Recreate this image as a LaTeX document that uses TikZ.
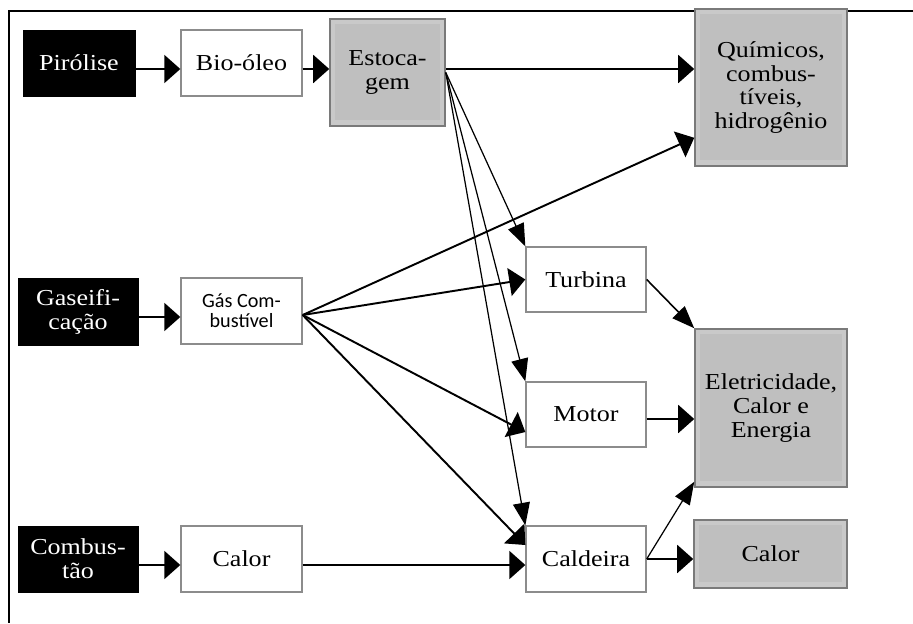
\documentclass[tikz,border=0pt]{standalone}
\usepackage{fontspec}
\setmainfont{Liberation Serif}[FakeStretch=1.14]
\newfontfamily\calib{Carlito}
\usepackage{tikz}
\usetikzlibrary{arrows.meta}

\definecolor{grayout}{HTML}{C9C9C9}
\definecolor{grayin}{HTML}{BFBFBF}
\definecolor{edgegray}{HTML}{7A7A7A}
\definecolor{boxgray}{HTML}{8C8C8C}

\begin{document}
\begin{tikzpicture}[x=0.02cm, y=-0.02cm,
  every node/.style={inner sep=0pt, align=center, font=\fontsize{13}{13.6}\selectfont},
  blk/.style={draw=black, fill=black, text=white},
  wht/.style={draw=boxgray, fill=white, line width=0.8pt},
  gry/.style={draw=edgegray, fill=grayout, line width=0.9pt,
    path picture={\fill[grayin] ([xshift=0.1cm,yshift=-0.1cm]path picture bounding box.north west)
      rectangle ([xshift=-0.1cm,yshift=0.12cm]path picture bounding box.south east);}},
  arr/.style={-{Triangle[length=0.32cm,width=0.56cm]}, line width=1.1pt},
  thin/.style={-{Triangle[length=0.45cm,width=0.34cm]}, line width=0.7pt}]
  \useasboundingbox (0,0) rectangle (913,623);
  % frame
  \draw[line width=1pt] (913,11) -- (9,11) -- (9,623);
  % sources
  \node[blk, minimum width=2.24cm, minimum height=1.32cm] (pir) at (79,63) {Pirólise};
  \node[blk, minimum width=2.4cm, minimum height=1.34cm] (gasf) at (78,311.5) {Gaseifi-\\cação};
  \node[blk, minimum width=2.4cm, minimum height=1.32cm] (comb) at (78,559) {Combus-\\tão};
  % products
  \node[wht, minimum width=2.42cm, minimum height=1.32cm] (bio) at (241.5,63) {Bio-óleo};
  \node[wht, minimum width=2.42cm, minimum height=1.32cm, font=\calib\fontsize{11.5}{11.4}\selectfont] (gas) at (241.5,311) {Gás Com-\\bustível};
  \node[wht, minimum width=2.42cm, minimum height=1.32cm] (calor) at (241.5,559) {Calor};
  \node[gry, minimum width=2.3cm, minimum height=2.14cm] (esto) at (387.5,72.5) {Estoca-\\gem};
  % conversion
  \node[wht, minimum width=2.4cm, minimum height=1.3cm] (turb) at (586,279.5) {Turbina};
  \node[wht, minimum width=2.4cm, minimum height=1.3cm] (motor) at (586,414.5) {Motor};
  \node[wht, minimum width=2.4cm, minimum height=1.32cm] (cald) at (586,559) {Caldeira};
  % end uses
  \node[gry, minimum width=3.04cm, minimum height=3.14cm] (quim) at (771,87.5) {Químicos,\\combus-\\tíveis,\\hidrogênio};
  \node[gry, minimum width=3.04cm, minimum height=3.16cm] (elet) at (771,408) {Eletricidade,\\Calor e\\Energia};
  \node[gry, minimum width=3.06cm, minimum height=1.36cm] (calor2) at (770.5,554) {Calor};
  % connectors
  \draw[arr] ([yshift=-1.2mm]pir.east) -- ([yshift=-1.2mm]bio.west);
  \draw[arr] ([yshift=-1.2mm]bio.east) -- ([yshift=-1.2mm]bio.east -| esto.west);
  \draw[arr] ([yshift=0.7mm]esto.east) -- ([yshift=0.7mm]esto.east -| quim.west);
  \draw[thin] (esto.east) -- (turb.north west);
  \draw[thin] (esto.east) -- (motor.north west);
  \draw[thin] (esto.east) -- (cald.north west);
  \draw[arr] ([yshift=-1.1mm]gasf.east) -- ([yshift=-1.1mm]gasf.east -| gas.west);
  \draw[arr] ([yshift=-0.8mm]gas.east) -- ([yshift=5.8mm]quim.south west);
  \draw[arr] ([yshift=-0.8mm]gas.east) -- (turb.west);
  \draw[arr] ([yshift=-0.8mm]gas.east) -- ([yshift=-3.5mm]motor.west);
  \draw[arr] ([yshift=-0.8mm]gas.east) -- ([yshift=2.8mm]cald.west);
  \draw[arr] ([yshift=-1.2mm]comb.east) -- ([yshift=-1.2mm]calor.west);
  \draw[arr] ([yshift=-1.2mm]calor.east) -- ([yshift=-1.2mm]cald.west);
  \draw[thin, line width=0.9pt] (turb.east) -- (elet.north west);
  \draw[arr] ([yshift=-0.9mm]motor.east) -- ([yshift=-0.9mm]motor.east -| elet.west);
  \draw[thin] (cald.east) -- ([yshift=1.2mm]elet.south west);
  \draw[arr] (cald.east) -- (cald.east -| calor2.west);
\end{tikzpicture}
\end{document}
